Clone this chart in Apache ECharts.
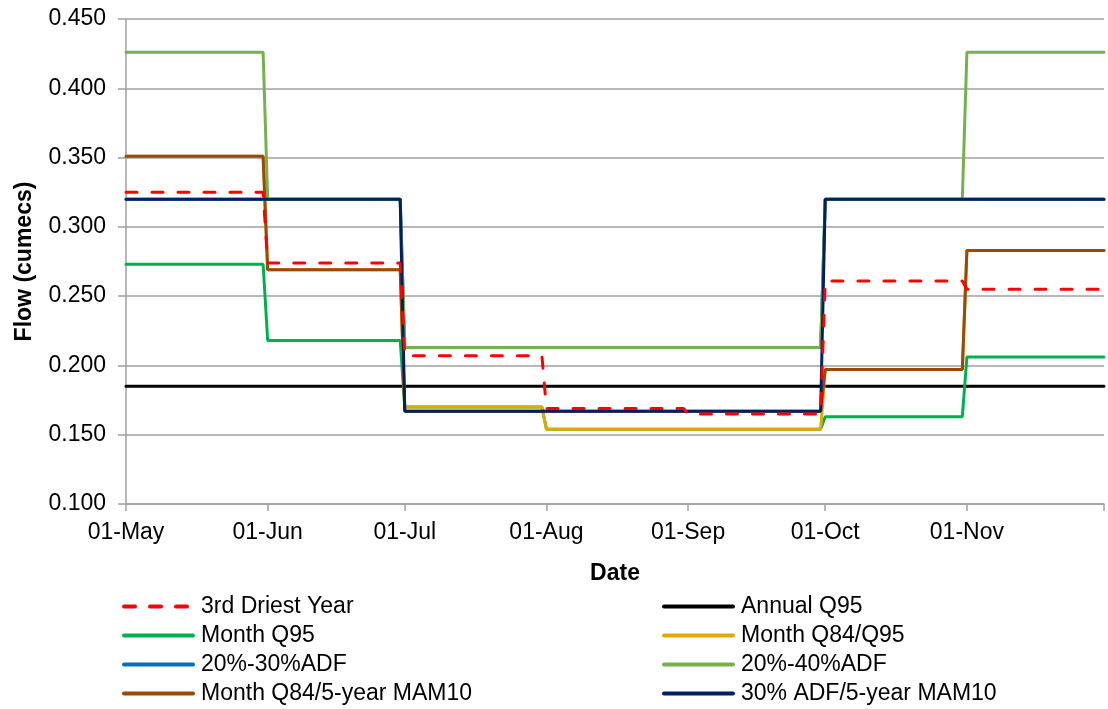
<!DOCTYPE html>
<html>
<head>
<meta charset="utf-8">
<script src="https://cdn.jsdelivr.net/npm/echarts@6/dist/echarts.min.js"></script>
<style>
html,body{margin:0;padding:0;background:#fff;}
#chart{width:1108px;height:709px;}
</style>
</head>
<body>
<div id="chart"></div>
<script>
// Month starts (x categories, step positions) and axis end
const monthStarts = ['2013-05-01','2013-06-01','2013-07-01','2013-08-01','2013-09-01','2013-10-01','2013-11-01'];
const axisEnd = '2013-12-01';
const tickLabels = ['01-May','01-Jun','01-Jul','01-Aug','01-Sep','01-Oct','01-Nov'];
const yTickLabels = ['0.100','0.150','0.200','0.250','0.300','0.350','0.400','0.450'];

// Monthly flow values (cumecs), May..Nov
const driest3     = [0.325, 0.274, 0.207, 0.169, 0.165, 0.261, 0.255];
const annualQ95   = [0.185, 0.185, 0.185, 0.185, 0.185, 0.185, 0.185];
const monthQ95    = [0.273, 0.218, 0.170, 0.154, 0.154, 0.163, 0.206];
const monthQ84Q95 = [0.351, 0.269, 0.170, 0.154, 0.154, 0.197, 0.283];
const adf20_30    = [0.320, 0.320, 0.213, 0.213, 0.213, 0.320, 0.320];
const adf20_40    = [0.426, 0.320, 0.213, 0.213, 0.213, 0.320, 0.426];
const q84Mam10    = [0.351, 0.269, 0.167, 0.167, 0.167, 0.197, 0.283];
const adf30Mam10  = [0.320, 0.320, 0.167, 0.167, 0.167, 0.320, 0.320];

const DAY = 86400000;
const starts = monthStarts.map(d => Date.parse(d));
const endT = Date.parse(axisEnd);
function steps(vals) {
  const out = [];
  vals.forEach((v, i) => {
    const s = starts[i];
    const e = (i < vals.length - 1) ? starts[i + 1] - DAY : endT;
    out.push([s, v]);
    out.push([e, v]);
  });
  return out;
}

const FONT = 'Liberation Sans, Arial, sans-serif';
const FS = 23;
function mk(name, vals, color, dashed, z) {
  return {
    name: name, type: 'line', symbol: 'none', z: z || 2,
    data: steps(vals),
    lineStyle: { color: color, width: 3, type: dashed ? [11, 15] : 'solid', cap: 'round' },
    itemStyle: { color: color },
    emphasis: { disabled: true }
  };
}
function legendCol(left, names) {
  return {
    orient: 'vertical', left: left, top: 595, height: 140, padding: 0,
    itemWidth: 69, itemHeight: 14, itemGap: 6,
    itemStyle: { opacity: 0, color: 'rgba(0,0,0,0)', borderWidth: 0 },
    lineStyle: { width: 4 },
    textStyle: { fontFamily: FONT, fontSize: FS, color: '#000', lineHeight: 22, padding: [0, 0, 0, 3] },
    data: names
  };
}

const chart = echarts.init(document.getElementById('chart'), null, { renderer: 'canvas' });
chart.setOption({
  animation: false,
  backgroundColor: '#fff',
  grid: { left: 126, right: 4, top: 19, bottom: 205, containLabel: false },
  xAxis: {
    type: 'value', min: starts[0], max: endT, scale: true,
    name: 'Date', nameLocation: 'middle', nameGap: 58,
    nameTextStyle: { fontFamily: FONT, fontSize: FS, fontWeight: 'bold', color: '#000' },
    axisLine: { show: true, lineStyle: { color: '#A0A0A0', width: 1.5 } },
    axisTick: { show: true, length: 7, lineStyle: { color: '#A0A0A0', width: 1.5 }, customValues: starts.concat([endT]) },
    axisLabel: {
      customValues: starts, fontFamily: FONT, fontSize: FS, color: '#000', margin: 17,
      formatter: function (val) { const i = starts.indexOf(val); return i >= 0 ? tickLabels[i] : ''; }
    },
    splitLine: { show: false }
  },
  yAxis: {
    type: 'value', min: 0.1, max: 0.45, interval: 0.05,
    name: 'Flow (cumecs)', nameLocation: 'middle', nameGap: 90,
    nameTextStyle: { fontFamily: FONT, fontSize: FS, fontWeight: 'bold', color: '#000' },
    axisLine: { show: true, lineStyle: { color: '#A0A0A0', width: 1.5 } },
    axisTick: { show: true, length: 8, lineStyle: { color: '#A0A0A0', width: 1.5 } },
    axisLabel: {
      fontFamily: FONT, fontSize: FS, color: '#000', margin: 20,
      formatter: function (v) { const i = Math.round((v - 0.1) / 0.05); return yTickLabels[i] || ''; }
    },
    splitLine: { show: true, lineStyle: { color: '#A0A0A0', width: 1.5 } }
  },
  legend: [
    legendCol(122, ['3rd Driest Year', 'Month Q95', '20%-30%ADF', 'Month Q84/5-year MAM10']),
    legendCol(662, ['Annual Q95', 'Month Q84/Q95', '20%-40%ADF', '30% ADF/5-year MAM10'])
  ],
  series: [
    mk('3rd Driest Year', driest3, '#FF0000', true, 10),
    mk('Annual Q95', annualQ95, '#000000', false, 2),
    mk('Month Q95', monthQ95, '#00B050', false, 3),
    mk('Month Q84/Q95', monthQ84Q95, '#E1AA00', false, 4),
    mk('20%-30%ADF', adf20_30, '#0070C0', false, 5),
    mk('20%-40%ADF', adf20_40, '#77B04E', false, 6),
    mk('Month Q84/5-year MAM10', q84Mam10, '#9A4A08', false, 7),
    mk('30% ADF/5-year MAM10', adf30Mam10, '#002060', false, 8)
  ]
});
</script>
</body>
</html>
